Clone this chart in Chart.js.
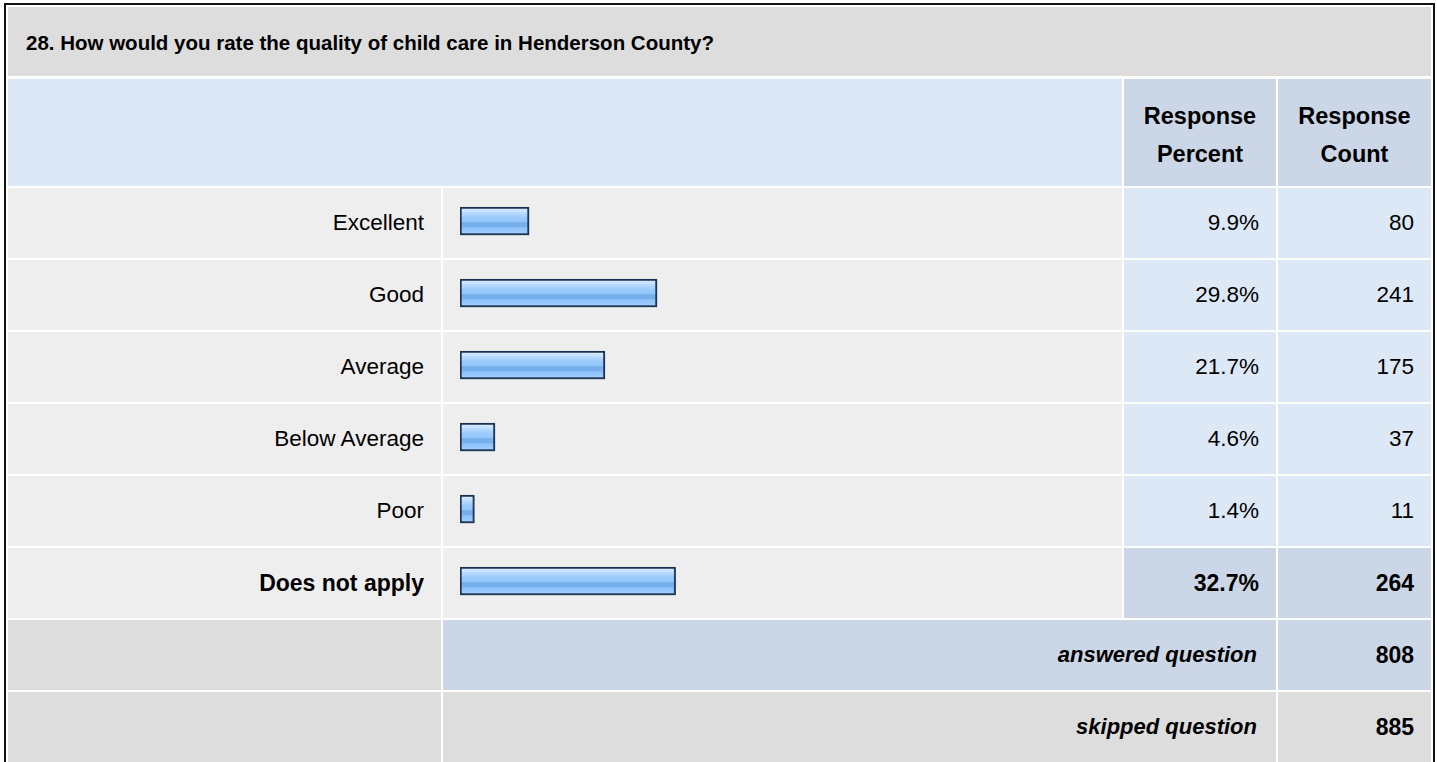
<!DOCTYPE html>
<html>
<head>
<meta charset="utf-8">
<title>Quality of child care in Henderson County</title>
<script src="https://cdn.jsdelivr.net/npm/chart.js@4.4.1/dist/chart.umd.min.js"></script>
<style>
  html, body { margin: 0; padding: 0; background: #ffffff; }
  body { width: 1437px; height: 762px; overflow: hidden; position: relative;
         font-family: "Liberation Sans", Arial, Helvetica, sans-serif; color: #000; }
  .frame { position: absolute; left: 4px; top: 3px; width: 1427px; height: 800px;
           border: 2px solid #111; border-bottom: none; background: #fff; }
  .cell { position: absolute; box-sizing: border-box; }
  .txt { position: absolute; white-space: nowrap; }
  #barWrap { position: absolute; left: 443px; top: 185px; width: 679px; height: 432px; }
</style>
</head>
<body>
<div class="frame"></div>
<div id="table"></div>
<div id="barWrap"><canvas id="bars" width="679" height="432"></canvas></div>
<script>
// Survey question and answers
const questionTitle = '28. How would you rate the quality of child care in Henderson County?';
const categories = ['Excellent', 'Good', 'Average', 'Below Average', 'Poor', 'Does not apply'];
const percents = [9.9, 29.8, 21.7, 4.6, 1.4, 32.7];
const counts = [80, 241, 175, 37, 11, 264];
const headerLabels = [['Response', 'Percent'], ['Response', 'Count']];
const summaryLabels = ['answered question', 'skipped question'];
const summaryCounts = [808, 885];

// Table geometry (columns and rows of the response grid)
const COL = { lab: [8, 441], bar: [443, 1122], pct: [1124, 1276], cnt: [1278, 1431] };
const TITLE_ROW = [7, 76];
const HEAD_ROW = [79, 186];
const ROW_TOP = 188, ROW_H = 70, ROW_GAP = 2;
const F_TITLE = 20.5, F_BODY = 22.5, F_BOLD = 23, F_HEAD = 23.5, F_SUM = 22;

const C_GRAY = '#dddddd', C_LIGHT = '#eeeeee', C_BLUE = '#dde8f6', C_BLUE2 = '#cbd7e6';

const table = document.getElementById('table');
function cell(x0, x1, y0, y1, bg) {
  const d = document.createElement('div');
  d.className = 'cell';
  Object.assign(d.style, { left: x0 + 'px', top: y0 + 'px', width: (x1 - x0) + 'px',
                           height: (y1 - y0) + 'px', background: bg });
  table.appendChild(d);
  return d;
}
function text(str, opts) {
  const d = document.createElement('div');
  d.className = 'txt';
  d.textContent = str;
  const st = { top: (opts.cy - opts.lh / 2) + 'px', height: opts.lh + 'px', lineHeight: opts.lh + 'px',
               fontSize: opts.size + 'px', fontWeight: opts.bold ? 'bold' : 'normal',
               fontStyle: opts.italic ? 'italic' : 'normal' };
  if (opts.right !== undefined) { st.right = (1437 - opts.right) + 'px'; st.textAlign = 'right'; }
  else if (opts.center !== undefined) { st.left = (opts.center - 150) + 'px'; st.width = '300px'; st.textAlign = 'center'; }
  else { st.left = opts.left + 'px'; }
  Object.assign(d.style, st);
  table.appendChild(d);
}

// Title row
cell(COL.lab[0], COL.cnt[1], TITLE_ROW[0], TITLE_ROW[1], C_GRAY);
text(questionTitle, { left: 26, cy: 43, lh: 30, size: F_TITLE, bold: true });

// Column headers
cell(COL.lab[0], COL.bar[1], HEAD_ROW[0], HEAD_ROW[1], C_BLUE);
cell(COL.pct[0], COL.pct[1], HEAD_ROW[0], HEAD_ROW[1], C_BLUE2);
cell(COL.cnt[0], COL.cnt[1], HEAD_ROW[0], HEAD_ROW[1], C_BLUE2);
[COL.pct, COL.cnt].forEach((c, i) => {
  const mid = (c[0] + c[1]) / 2;
  text(headerLabels[i][0], { center: mid, cy: 116, lh: 30, size: F_HEAD, bold: true });
  text(headerLabels[i][1], { center: mid, cy: 154, lh: 30, size: F_HEAD, bold: true });
});

// Answer rows
categories.forEach((cat, i) => {
  const y0 = ROW_TOP + i * (ROW_H + ROW_GAP), y1 = y0 + ROW_H, cy = (y0 + y1) / 2;
  const last = i === categories.length - 1;
  const fs = last ? F_BOLD : F_BODY;
  cell(COL.lab[0], COL.lab[1], y0, y1, C_LIGHT);
  cell(COL.bar[0], COL.bar[1], y0, y1, C_LIGHT);
  cell(COL.pct[0], COL.pct[1], y0, y1, last ? C_BLUE2 : C_BLUE);
  cell(COL.cnt[0], COL.cnt[1], y0, y1, last ? C_BLUE2 : C_BLUE);
  text(cat, { right: 424, cy: cy, lh: 30, size: fs, bold: last });
  text(percents[i].toFixed(1) + '%', { right: 1259, cy: cy, lh: 30, size: fs, bold: last });
  text(String(counts[i]), { right: 1414, cy: cy, lh: 30, size: fs, bold: last });
});

// Summary rows
summaryLabels.forEach((lab, j) => {
  const i = categories.length + j;
  const y0 = ROW_TOP + i * (ROW_H + ROW_GAP), y1 = y0 + ROW_H + (j === 1 ? 40 : 0);
  const cy = y0 + ROW_H / 2;
  const bg = j === 0 ? C_BLUE2 : C_GRAY;
  cell(COL.lab[0], COL.lab[1], y0, y1, C_GRAY);
  cell(COL.bar[0], COL.pct[1], y0, y1, bg);
  cell(COL.cnt[0], COL.cnt[1], y0, y1, bg);
  text(lab, { right: 1257, cy: cy, lh: 30, size: F_SUM, bold: true, italic: true });
  text(String(summaryCounts[j]), { right: 1414, cy: cy, lh: 30, size: F_BOLD, bold: true });
});

// Bar chart inside the answer rows
const X_MIN = -0.824, X_MAX = 102.13, BAR_T = 28;

function barFill(ctx) {
  const chart = ctx.chart;
  const ys = chart.scales && chart.scales.y;
  const yc = ys ? ys.getPixelForValue(ctx.dataIndex) : NaN;
  if (!isFinite(yc)) return '#93c6fb';
  const g = chart.ctx.createLinearGradient(0, yc - BAR_T / 2, 0, yc + BAR_T / 2);
  g.addColorStop(0.00, '#d6ebff');
  g.addColorStop(0.14, '#cce6ff');
  g.addColorStop(0.24, '#b2d8fe');
  g.addColorStop(0.36, '#9ccdfd');
  g.addColorStop(0.52, '#93c6fb');
  g.addColorStop(0.56, '#78afed');
  g.addColorStop(0.70, '#78afed');
  g.addColorStop(0.74, '#8dc2fa');
  g.addColorStop(1.00, '#a2d0fd');
  return g;
}

const barShadow = {
  id: 'barShadow',
  beforeDatasetsDraw(chart) {
    const c = chart.ctx;
    c.save();
    c.shadowColor = 'rgba(60,80,110,0.45)';
    c.shadowOffsetX = 1;
    c.shadowOffsetY = 1;
    c.shadowBlur = 0;
  },
  afterDatasetsDraw(chart) { chart.ctx.restore(); }
};

new Chart(document.getElementById('bars'), {
  type: 'bar',
  data: {
    labels: categories,
    datasets: [{
      data: percents,
      base: X_MIN,
      backgroundColor: barFill,
      borderColor: '#1c3252',
      borderWidth: 2,
      borderSkipped: false,
      barThickness: BAR_T
    }]
  },
  options: {
    indexAxis: 'y',
    responsive: false,
    animation: false,
    devicePixelRatio: 1,
    layout: { padding: { left: 17, right: 0, top: 0, bottom: 0 } },
    scales: {
      x: { display: false, min: X_MIN, max: X_MAX },
      y: { display: false }
    },
    plugins: { legend: { display: false }, tooltip: { enabled: false } }
  },
  plugins: [barShadow]
});
</script>
</body>
</html>
